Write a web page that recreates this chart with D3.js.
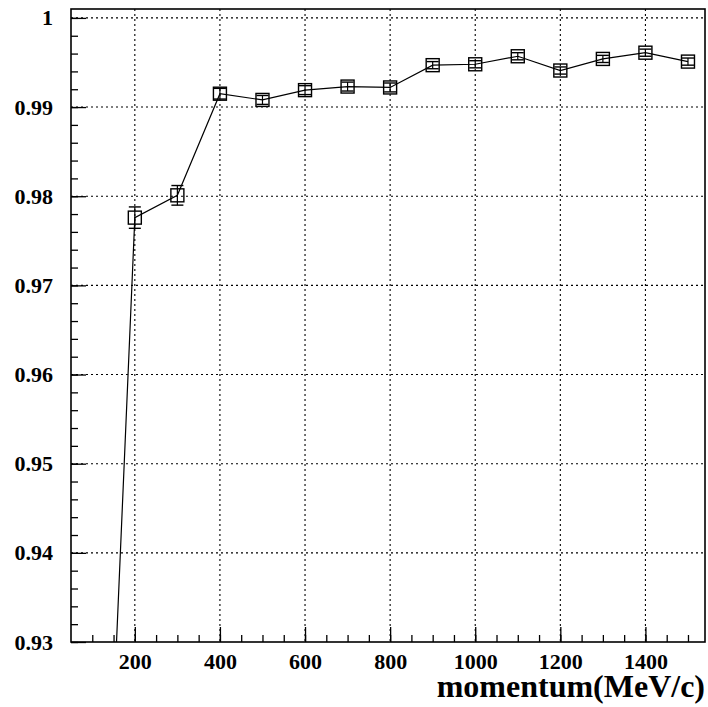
<!DOCTYPE html>
<html>
<head>
<meta charset="utf-8">
<script src="https://cdn.jsdelivr.net/npm/d3@7"></script>
<style>
  html, body { margin: 0; padding: 0; background: #fff; }
  svg { display: block; }
  text { font-family: "Liberation Serif", "Times New Roman", serif; font-weight: bold; fill: #000; }
</style>
</head>
<body>
<svg id="chart" width="708" height="707"></svg>
<script>
// ---- data ----
const momentum   = [100, 200, 300, 400, 500, 600, 700, 800, 900, 1000, 1100, 1200, 1300, 1400, 1500];
const efficiency = [0.867, 0.9776, 0.9801, 0.9915, 0.9908, 0.9919, 0.9923, 0.9922, 0.9947, 0.9948, 0.9957, 0.9941, 0.9954, 0.9961, 0.9951];
const errors     = [0.003, 0.0012, 0.0011, 0.0006, 0.0005, 0.0005, 0.0005, 0.0005, 0.0004, 0.0004, 0.0004, 0.0004, 0.0004, 0.0004, 0.0004];
const xTickLabels = [200, 400, 600, 800, 1000, 1200, 1400];
const yTickLabels = [0.93, 0.94, 0.95, 0.96, 0.97, 0.98, 0.99, 1];
const xTitle = "momentum(MeV/c)";

(function () {
// ---- layout ----
const pL = 71, pR = 705, pT = 9, pB = 642;
const FONT = '"Liberation Serif", "Times New Roman", serif';
const svg = d3.select("#chart");

const x = d3.scaleLinear().domain([50, 1540]).range([pL, pR]);
const y = d3.scaleLinear().domain([0.93, 1.001]).range([pB, pT]);

// clip
svg.append("defs").append("clipPath").attr("id", "clip")
  .append("rect").attr("x", pL).attr("y", pT).attr("width", pR - pL).attr("height", pB - pT);

// grid
const grid = svg.append("g");
grid.selectAll(".vg").data(xTickLabels).join("line")
  .attr("x1", d => x(d)).attr("x2", d => x(d)).attr("y1", pT).attr("y2", pB)
  .attr("stroke", "#000").attr("stroke-width", 1.1).attr("stroke-dasharray", "2,3");
grid.selectAll(".hg").data(yTickLabels.filter(d => d > 0.93)).join("line")
  .attr("x1", pL).attr("x2", pR).attr("y1", d => y(d)).attr("y2", d => y(d))
  .attr("stroke", "#000").attr("stroke-width", 1.1).attr("stroke-dasharray", "2,3");

// x axis: minor ticks every 50, major at label positions
const xMinor = d3.range(100, 1540, 50);
const gxm = svg.append("g").attr("transform", `translate(0,${pB})`)
  .call(d3.axisTop(x).tickValues(xMinor).tickSize(7).tickFormat(""));
const gxM = svg.append("g").attr("transform", `translate(0,${pB})`)
  .call(d3.axisTop(x).tickValues(xTickLabels).tickSize(15).tickFormat(""));
[gxm, gxM].forEach(g => { g.select(".domain").remove(); g.selectAll("line").attr("stroke", "#000").attr("stroke-width", 1.3); });

// x labels
const gxl = svg.append("g").attr("transform", `translate(0,${pB})`)
  .call(d3.axisBottom(x).tickValues(xTickLabels).tickSize(0).tickPadding(11).tickFormat(d3.format("d")));
gxl.select(".domain").remove();
gxl.selectAll("text").style("font-size", "22px").style("font-family", FONT).style("font-weight", "bold").attr("fill", "#000");

// y axis: minor ticks every 0.002
const yMinor = d3.range(0, 36).map(i => +(0.93 + i * 0.002).toFixed(3)).filter(d => d <= 1.0005);
const gym = svg.append("g").attr("transform", `translate(${pL},0)`)
  .call(d3.axisRight(y).tickValues(yMinor).tickSize(7).tickFormat(""));
const gyM = svg.append("g").attr("transform", `translate(${pL},0)`)
  .call(d3.axisRight(y).tickValues(yTickLabels).tickSize(15).tickFormat(""));
[gym, gyM].forEach(g => { g.select(".domain").remove(); g.selectAll("line").attr("stroke", "#000").attr("stroke-width", 1.3); });

const gyl = svg.append("g").attr("transform", `translate(${pL},0)`)
  .call(d3.axisLeft(y).tickValues(yTickLabels).tickSize(0).tickPadding(18)
    .tickFormat(d => d === 1 ? "1" : d3.format(".2f")(d)));
gyl.select(".domain").remove();
gyl.selectAll("text").style("font-size", "22px").style("font-family", FONT).style("font-weight", "bold").attr("fill", "#000");

// frame
svg.append("rect").attr("x", pL).attr("y", pT).attr("width", pR - pL).attr("height", pB - pT)
  .attr("fill", "none").attr("stroke", "#000").attr("stroke-width", 1.6);

// data
const pts = momentum.map((m, i) => ({ m, v: efficiency[i], e: errors[i] }));
const plot = svg.append("g").attr("clip-path", "url(#clip)");

plot.append("path").datum(pts)
  .attr("d", d3.line().x(d => x(d.m)).y(d => y(d.v)))
  .attr("fill", "none").attr("stroke", "#000").attr("stroke-width", 1.2);

// error bars
const eb = plot.selectAll(".eb").data(pts).join("g");
eb.append("line")
  .attr("x1", d => x(d.m)).attr("x2", d => x(d.m))
  .attr("y1", d => y(d.v + d.e)).attr("y2", d => y(d.v - d.e))
  .attr("stroke", "#000").attr("stroke-width", 1.2);
eb.append("line")
  .attr("x1", d => x(d.m) - 6).attr("x2", d => x(d.m) + 6)
  .attr("y1", d => y(d.v + d.e)).attr("y2", d => y(d.v + d.e))
  .attr("stroke", "#000").attr("stroke-width", 1.4);
eb.append("line")
  .attr("x1", d => x(d.m) - 6).attr("x2", d => x(d.m) + 6)
  .attr("y1", d => y(d.v - d.e)).attr("y2", d => y(d.v - d.e))
  .attr("stroke", "#000").attr("stroke-width", 1.4);

// markers (open squares)
const ms = 13;
plot.selectAll(".mk").data(pts).join("rect")
  .attr("x", d => x(d.m) - ms / 2).attr("y", d => y(d.v) - ms / 2)
  .attr("width", ms).attr("height", ms)
  .attr("fill", "#fff").attr("fill-opacity", 0).attr("stroke", "#000").attr("stroke-width", 1.4);

// axis title
svg.append("text").attr("x", 705).attr("y", 697).attr("text-anchor", "end")
  .style("font-family", FONT).style("font-weight", "bold").style("font-size", "32px").text(xTitle);
})();
</script>
</body>
</html>
